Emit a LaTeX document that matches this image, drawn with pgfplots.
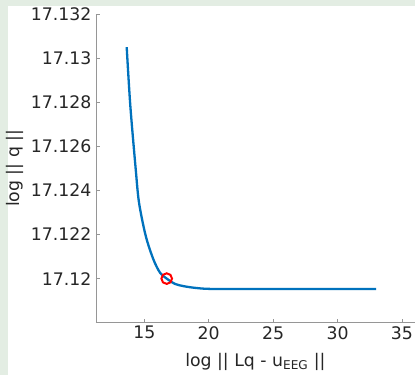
\documentclass[border=0pt]{standalone}
\usepackage{pgfplots}
\pgfplotsset{compat=1.18}
\usepackage{fontspec}
\setmainfont{DejaVu Sans}
\definecolor{bgg}{RGB}{227,237,227}
\definecolor{mblue}{RGB}{0,114,189}
\definecolor{axgray}{RGB}{150,150,150}
\definecolor{txt}{RGB}{38,38,38}
\begin{document}
\begin{tikzpicture}
\path[use as bounding box] (0pt,0pt) rectangle (415pt,375pt);
\fill[bgg] (0pt,0pt) rectangle (415pt,375pt);
\fill[white] (8pt,0pt) rectangle (415pt,369pt);
\begin{axis}[
  at={(96pt,52.3pt)}, anchor=south west,
  scale only axis, width=318.8pt, height=308.7pt,
  xmin=11.25, xmax=36, ymin=17.118, ymax=17.132,
  axis x line*=bottom, axis y line*=left,
  axis line style={axgray, line width=0.6pt},
  tick style={axgray, line width=0.6pt},
  tick align=inside, major tick length=4pt,
  xtick={15,20,25,30,35}, xticklabels={15,20,25,30,35},
  ytick={17.12,17.122,17.124,17.126,17.128,17.13,17.132},
  yticklabels={17.12,17.122,17.124,17.126,17.128,17.13,17.132},
  ticklabel style={font=\fontsize{17.3}{17.3}\selectfont, text=txt},
  yticklabel style={xshift=-1pt},
  /pgf/number format/assume math mode=true,
  xlabel={log || Lq - u\textsubscript{EEG} ||},
  ylabel={log || q ||},
  label style={font=\fontsize{17.3}{17.3}\selectfont, text=txt},
  xlabel style={yshift=-7pt},
  clip=false,
]
\addplot[mblue, line width=2.3pt, smooth, tension=0.5] coordinates {
(13.633,17.13050) (13.913,17.12785) (14.332,17.12497) (14.589,17.12345)
(15.109,17.12194) (15.699,17.12088) (16.219,17.12027) (16.739,17.12000)
(17.38,17.11976) (18.028,17.11966) (18.80,17.11959) (19.71,17.11954)
(20.88,17.11953) (25,17.11953) (32.99,17.11953)
};
\addplot[only marks, mark=o, mark size=5.3pt, mark options={red, line width=2pt}] coordinates {(16.739,17.12)};
\end{axis}
\end{tikzpicture}
\end{document}
